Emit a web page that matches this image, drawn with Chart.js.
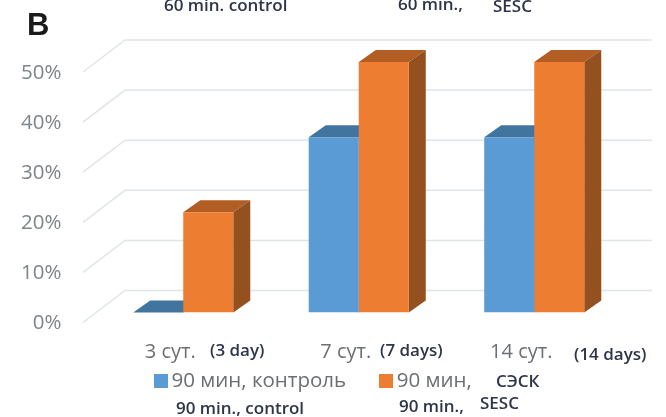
<!doctype html>
<html lang="ru">
<head>
    <meta charset="utf-8">
    <title>B</title>
    <script src="https://cdn.jsdelivr.net/npm/chart.js@4"></script>
    <style>
        body { margin: 0; background: #fff; }
        canvas { display: block; }
    </style>
</head>
<body>
<canvas id="chartCanvas" width="666" height="417"></canvas>
<script>
    const categories = ["3 сут.", "7 сут.", "14 сут."];
    const controlLabel = "90 мин, контроль";
    const sescLabel = "90 мин,";
    const controlValues = [0, 35, 35];
    const sescValues = [20, 50, 50];

    const labelFont = "'Open Sans', sans-serif";
    const noteFont = "600 17px 'Open Sans', sans-serif";
    const noteColor = "#2d3549";

    // text pasted over the original figure
    const notes = [
        ["60 min. control", 164, 6],
        ["60 min.,", 398, 5],
        ["SESC", 493, 7],
        ["(3 day)", 210, 351],
        ["(7 days)", 380, 351],
        ["(14 days)", 574, 355],
        ["СЭСК", 496, 382],
        ["90 min., control", 176, 409],
        ["90 min.,", 399, 407],
        ["SESC", 480, 404]
    ];

    const colors = [
        {front: "#5b9bd5", top: "#41759f", side: "#3f6f9c"},
        {front: "#ed7d31", top: "#b15d24", side: "#94501f"}
    ];

    function swatch(color) {
        let c = document.createElement("canvas");
        c.width = 14;
        c.height = 14;
        let ctx = c.getContext("2d");
        ctx.fillStyle = color;
        ctx.fillRect(0, 0, 14, 14);
        return c;
    }

    function drawFaces(chart, index) {
        let ctx = chart.ctx;
        let c = colors[index];
        let dx = 17, dy = 12;
        chart.getDatasetMeta(index).data.forEach(function (bar) {
            let left = bar.x - bar.width / 2;
            let right = bar.x + bar.width / 2;
            ctx.fillStyle = c.top;
            ctx.beginPath();
            ctx.moveTo(left, bar.y);
            ctx.lineTo(left + dx, bar.y - dy);
            ctx.lineTo(right + dx, bar.y - dy);
            ctx.lineTo(right, bar.y);
            ctx.fill();
            ctx.fillStyle = c.side;
            ctx.beginPath();
            ctx.moveTo(right, bar.y);
            ctx.lineTo(right + dx, bar.y - dy);
            ctx.lineTo(right + dx, bar.base - dy);
            ctx.lineTo(right, bar.base);
            ctx.fill();
        });
    }

    // back wall and 3d faces, drawn from the scales and bar elements
    const wallPlugin = {
        id: "wall",
        beforeDatasetsDraw(chart) {
            let ctx = chart.ctx;
            let y = chart.scales.y;
            ctx.save();
            ctx.strokeStyle = "#dfe5e8";
            ctx.lineWidth = 1.5;
            y.ticks.forEach(function (t) {
                let py = y.getPixelForValue(t.value);
                ctx.beginPath();
                ctx.moveTo(83, py + 10);
                ctx.lineTo(125, py - 22);
                ctx.lineTo(652, py - 22);
                ctx.stroke();
            });
            drawFaces(chart, 0);
            drawFaces(chart, 1);
            ctx.restore();
        },
        afterDraw(chart) {
            let ctx = chart.ctx;
            ctx.save();
            ctx.textBaseline = "middle";
            ctx.textAlign = "left";
            ctx.font = noteFont;
            ctx.fillStyle = noteColor;
            notes.forEach(function (n) {
                ctx.fillText(n[0], n[1], n[2]);
            });
            ctx.font = "bold 31px 'Liberation Sans', sans-serif";
            ctx.fillStyle = "#1a1a1a";
            ctx.fillText("B", 27, 26);
            ctx.restore();
        }
    };

    new Chart(document.getElementById("chartCanvas"), {
        type: "bar",
        data: {
            labels: categories,
            datasets: [
                {label: controlLabel, data: controlValues, backgroundColor: colors[0].front},
                {label: sescLabel, data: sescValues, backgroundColor: colors[1].front}
            ]
        },
        options: {
            responsive: false,
            animation: false,
            layout: {padding: {top: 62, right: 44, left: 10, bottom: 16}},
            datasets: {bar: {barPercentage: 1, categoryPercentage: 0.57}},
            scales: {
                x: {
                    grid: {display: false},
                    border: {display: false},
                    afterFit(scale) {
                        scale.height = 56;
                    },
                    ticks: {
                        color: "#6b6f72",
                        font: {family: labelFont, size: 20},
                        labelOffset: -13,
                        padding: 20,
                        maxRotation: 0,
                        autoSkip: false
                    }
                },
                y: {
                    min: 0,
                    max: 50,
                    grid: {display: false, drawTicks: false},
                    border: {display: false},
                    afterFit(scale) {
                        scale.width = 85.5;
                    },
                    ticks: {
                        stepSize: 10,
                        color: "#7e8588",
                        font: {family: labelFont, size: 20.5},
                        padding: 34,
                        labelOffset: 11,
                        callback: function (v) {
                            return v + "%";
                        }
                    }
                }
            },
            plugins: {
                tooltip: {enabled: false},
                legend: {
                    position: "bottom",
                    labels: {
                        color: "#6b6f72",
                        font: {family: labelFont, size: 20.5},
                        usePointStyle: true,
                        pointStyleWidth: 1,
                        boxHeight: 14,
                        padding: 2,
                        generateLabels(chart) {
                            let items = Chart.defaults.plugins.legend.labels.generateLabels(chart);
                            items.forEach(function (item, i) {
                                item.pointStyle = swatch(colors[i].front);
                            });
                            items[0].text += "       ";
                            return items;
                        }
                    }
                }
            }
        },
        plugins: [wallPlugin]
    });
</script>
</body>
</html>
